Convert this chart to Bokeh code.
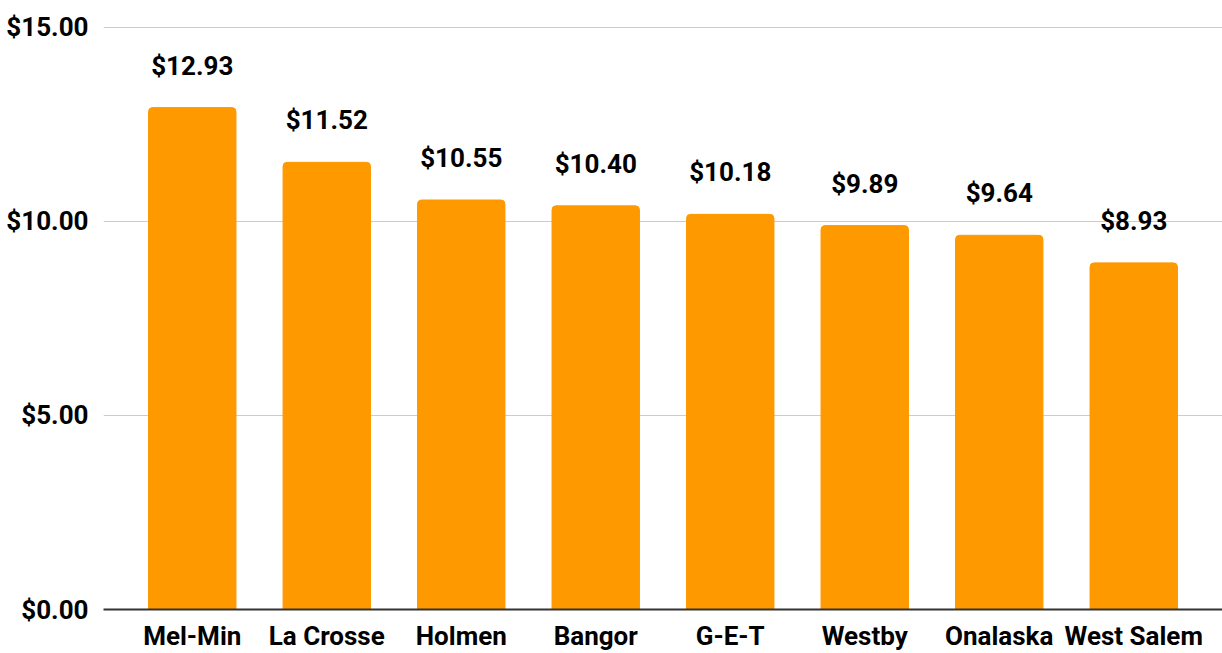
from bokeh.plotting import figure
from bokeh.models import ColumnDataSource, FixedTicker, NumeralTickFormatter, Range1d
from bokeh.core.properties import value
from bokeh.embed import file_html
from bokeh.resources import INLINE

districts = ["Mel-Min", "La Crosse", "Holmen", "Bangor", "G-E-T", "Westby", "Onalaska", "West Salem"]
costs = [12.93, 11.52, 10.55, 10.40, 10.18, 9.89, 9.64, 8.93]
y_ticks = [0, 5, 10, 15]

xs = list(range(len(districts)))
labels = ["${:.2f}".format(c) for c in costs]
src = ColumnDataSource(dict(x=xs, top=costs, label=labels))

p = figure(width=1222, height=653, output_backend="svg", toolbar_location=None,
           x_range=Range1d(-0.66, len(districts) - 1 + 0.66),
           y_range=Range1d(0, 15.02),
           min_border_left=103, min_border_right=0, min_border_top=26, min_border_bottom=44)
p.outline_line_color = None
p.background_fill_color = "white"
p.border_fill_color = "white"

p.vbar(x="x", top="top", width=0.65, source=src, color="#FF9900", border_radius=[4, 4, 0, 0])
p.text(x="x", y="top", text="label", source=src, y_offset=-27,
       text_align="center", text_baseline="bottom",
       text_font=value("Roboto"), text_font_style="bold", text_font_size="26px", text_color="#000000")

p.xgrid.grid_line_color = None
p.ygrid.ticker = FixedTicker(ticks=y_ticks)
p.ygrid.grid_line_color = "#CCCCCC"
p.ygrid.grid_line_width = 1

p.yaxis.ticker = FixedTicker(ticks=y_ticks)
p.yaxis.formatter = NumeralTickFormatter(format="$0.00")
p.yaxis.axis_line_color = None
p.yaxis.major_tick_line_color = None
p.yaxis.minor_tick_line_color = None
p.yaxis.major_label_standoff = 9
p.yaxis.major_label_text_font = "Roboto"
p.yaxis.major_label_text_font_style = "bold"
p.yaxis.major_label_text_font_size = "26px"
p.yaxis.major_label_text_color = "#000000"

p.xaxis.ticker = FixedTicker(ticks=xs)
p.xaxis.major_label_overrides = {i: d for i, d in enumerate(districts)}
p.xaxis.axis_line_color = "#333333"
p.xaxis.axis_line_width = 2
p.xaxis.major_tick_line_color = None
p.xaxis.minor_tick_line_color = None
p.xaxis.major_tick_out = 0
p.xaxis.major_tick_in = 0
p.xaxis.major_label_standoff = 11
p.xaxis.major_label_text_font = "Roboto"
p.xaxis.major_label_text_font_style = "bold"
p.xaxis.major_label_text_font_size = "26px"
p.xaxis.major_label_text_color = "#000000"

open("out.html", "w").write(file_html(p, INLINE))
